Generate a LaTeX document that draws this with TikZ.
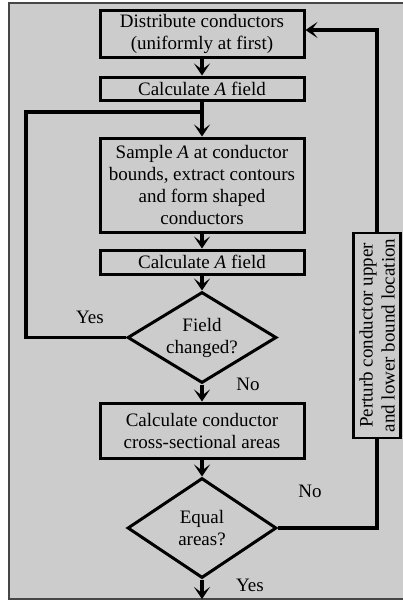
\documentclass[tikz,border=0pt]{standalone}
\usepackage{fontspec}
\setmainfont{Liberation Serif}
\usetikzlibrary{arrows.meta,shapes.geometric}
\definecolor{panel}{RGB}{204,204,204}
\definecolor{frameline}{RGB}{70,70,70}
\begin{document}
\begin{tikzpicture}[x=1pt,y=-1pt,
  every node/.style={font=\fontsize{19}{22}\selectfont},
  flow/.style={line width=3.2pt,draw=black,line join=miter},
  arr/.style={flow,-{Stealth[length=12pt,width=16pt,inset=6pt]}},
  procbox/.style={draw=black,line width=3pt,fill=panel,minimum width=204pt,inner sep=0pt,align=center},
  decision/.style={draw=black,line width=3pt,fill=panel,shape=diamond,aspect=1.64,inner sep=0pt,align=center},
  tag/.style={inner sep=0pt}]
\useasboundingbox (0,0) rectangle (403,600);
\fill[white] (0,0) rectangle (403,600);
\draw[frameline,line width=1.8pt,fill=panel] (9,3) rectangle (420,599);

% process boxes
\node[procbox,minimum height=47pt] (dist) at (202,33.5) {Distribute conductors\\(uniformly at first)};
\node[procbox,minimum height=23pt] (calcA) at (202,88.5) {Calculate \textit{A} field};
\node[procbox,minimum height=94pt] (sample) at (202,185) {Sample \textit{A} at conductor\\bounds, extract contours\\and form shaped\\conductors};
\node[procbox,minimum height=24pt] (calcB) at (202,262) {Calculate \textit{A} field};
\node[decision,minimum width=149pt,minimum height=91pt] (changed) at (202,337.5) {Field\\changed?};
\node[procbox,minimum height=55pt] (areas) at (202,430.5) {Calculate conductor\\cross-sectional areas};
\node[decision,minimum width=149pt,minimum height=100pt] (equal) at (202,528) {Equal\\areas?};

% side box with vertical text
\node[draw=black,line width=2.6pt,fill=panel,minimum width=47pt,minimum height=205pt,inner sep=0pt] (perturb) at (377,335.5) {};
\node[rotate=90,align=center,inner sep=0pt] (perturbtext) at (perturb.center) {Perturb conductor upper\\and lower bound location};

% branch labels
\node[tag] (yes1) at (90,317) {Yes};
\node[tag] (no1) at (248,384) {No};
\node[tag] (no2) at (310,491) {No};
\node[tag] (yes2) at (250,585) {Yes};

% junctions
\coordinate (split) at (202,112);
\coordinate (loopleft) at (26,112);
\coordinate (ret) at (377,30);
\coordinate (exit) at (202,599);

% connectors
\draw[arr] (dist) -- (calcA);
\draw[flow] (calcA) -- (split);
\draw[arr] (split) -- (sample);
\draw[arr] (sample) -- (calcB);
\draw[arr] (calcB) -- (changed);
\draw[arr] (changed) -- (areas);
\draw[arr] (areas) -- (equal);
\draw[arr] (equal) -- (exit);
\draw[flow] (changed.west) -| (loopleft) -- (split);
\draw[flow] (equal.east) -| (perturb.south);
\draw[arr] (perturb.north) -- (ret) -- (ret -| dist.east);
\end{tikzpicture}
\end{document}
